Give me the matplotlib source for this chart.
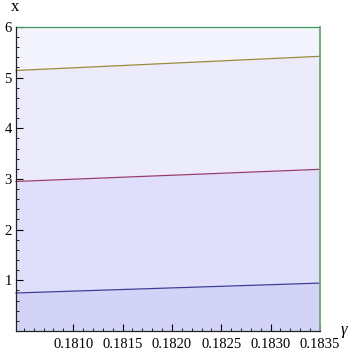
import matplotlib
matplotlib.use("Agg")
import matplotlib.pyplot as plt
from matplotlib.ticker import MultipleLocator, FormatStrFormatter

plt.rcParams['font.family'] = ['Liberation Serif', 'DejaVu Serif']

# data
gamma = [0.18042, 0.1835]
x_blue = [0.75, 0.945]
x_red = [2.95, 3.19]
x_gold = [5.14, 5.42]
x_top = [6.0, 6.0]

curves = [x_blue, x_red, x_gold, x_top]
line_colors = ['#3d3d99', '#993d71', '#998b3d', '#3d9954']
fill_colors = ['#d3d3f8', '#dfdffb', '#ebebfc', '#f4f4fe']

fig = plt.figure(figsize=(3.49, 3.54), dpi=100)
ax = fig.add_axes([0.0458, 0.065, 0.871, 0.859])

lower = [0, 0]
for c, fc in zip(curves, fill_colors):
    ax.fill_between(gamma, lower, c, color=fc, lw=0, zorder=1)
    lower = c
for c, lc in zip(curves, line_colors):
    ax.plot(gamma, c, color=lc, lw=0.9, zorder=3, clip_on=False)
ax.plot([gamma[1], gamma[1]], [0, x_top[1]], color='#7aa878', lw=1.4,
        zorder=3, clip_on=False)

ax.set_xlim(gamma[0], gamma[1])
ax.set_ylim(0, 6)
for s in ['top', 'right']:
    ax.spines[s].set_visible(False)
for s in ['left', 'bottom']:
    ax.spines[s].set_linewidth(0.9)
    ax.spines[s].set_color('#222222')
    ax.spines[s].set_zorder(4)

ax.xaxis.set_major_locator(MultipleLocator(0.0005))
ax.xaxis.set_minor_locator(MultipleLocator(0.0001))
ax.xaxis.set_major_formatter(FormatStrFormatter('%.4f'))
ax.yaxis.set_major_locator(MultipleLocator(1))
ax.yaxis.set_minor_locator(MultipleLocator(0.2))
ax.tick_params(which='major', direction='in', length=5, width=0.8, labelsize=10.5, pad=5)
ax.tick_params(which='minor', direction='in', length=2.5, width=0.6)
ax.tick_params(axis='y', pad=3)
ax.set_yticks([1, 2, 3, 4, 5, 6])
ax.set_xticks([0.1810, 0.1815, 0.1820, 0.1825, 0.1830, 0.1835])

fig.text(15 / 349, 1 - 7 / 354, 'x', fontsize=12, ha='center', va='center')
fig.text(341 / 349, 1 - 330 / 354, 'γ', fontsize=12, ha='left', va='center',
         style='italic')

fig.savefig('out.png', dpi=100)
